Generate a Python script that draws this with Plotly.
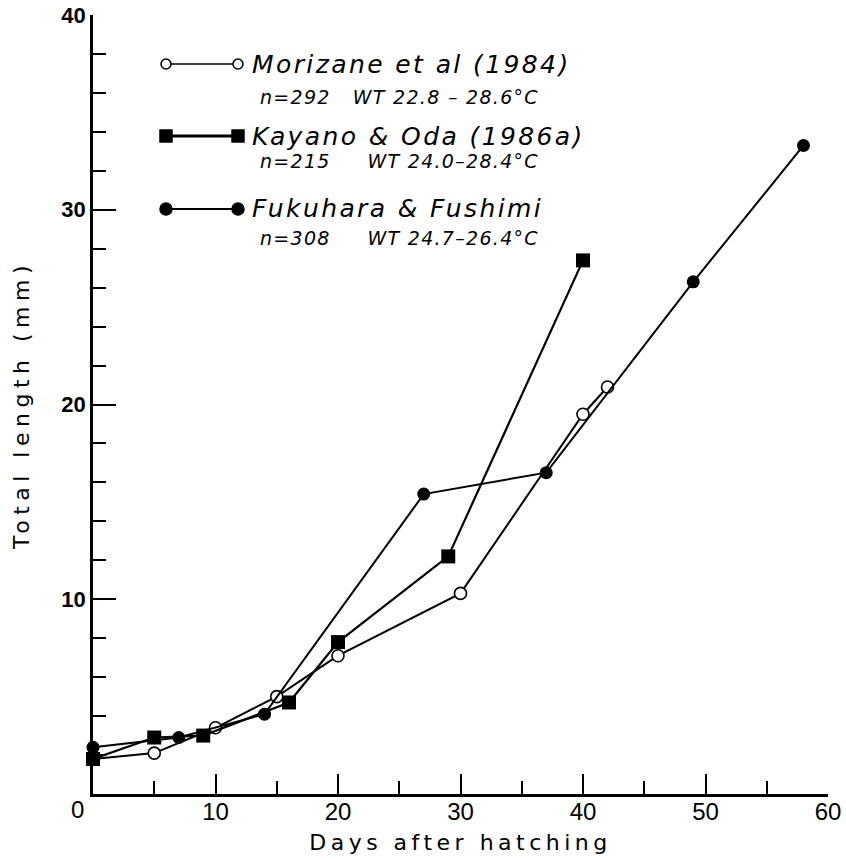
import plotly.graph_objects as go

# ---- data ----
mor_days = [0, 5, 10, 15, 20, 30, 40, 42]
mor_len = [1.8, 2.1, 3.4, 5.0, 7.1, 10.3, 19.5, 20.9]

kay_days = [0, 5, 9, 16, 20, 29, 40]
kay_len = [1.8, 2.9, 3.0, 4.7, 7.8, 12.2, 27.4]

fuk_days = [0, 7, 14, 27, 37, 49, 58]
fuk_len = [2.4, 2.9, 4.1, 15.4, 16.5, 26.3, 33.3]

x_ticks = [0, 10, 20, 30, 40, 50, 60]
x_ticktext = ["", "10", "20", "30", "40", "50", "60"]
y_ticks = [10, 20, 30, 40]

legend_titles = ["Morizane et al (1984)", "Kayano & Oda (1986a)", "Fukuhara & Fushimi"]
legend_subs = ["n=292   WT 22.8 – 28.6°C", "n=215     WT 24.0–28.4°C", "n=308     WT 24.7–26.4°C"]

W, H = 846, 860
L, R, T, B = 93, 18, 15, 66
PW, PH = W - L - R, H - T - B


def px(xp):
    return (xp - L) / PW


def py(yp):
    return (H - B - yp) / PH


def spaced(txt, sp):
    return '<span style="letter-spacing:%spx">%s</span>' % (sp, txt)


fig = go.Figure()

fig.add_trace(go.Scatter(
    x=mor_days, y=mor_len, mode="lines+markers", cliponaxis=False,
    line=dict(color="black", width=2),
    marker=dict(symbol="circle", size=12, color="white", line=dict(color="black", width=1.6)),
    showlegend=False))
fig.add_trace(go.Scatter(
    x=kay_days, y=kay_len, mode="lines+markers", cliponaxis=False,
    line=dict(color="black", width=2.2),
    marker=dict(symbol="square", size=14, color="black"),
    showlegend=False))
fig.add_trace(go.Scatter(
    x=fuk_days, y=fuk_len, mode="lines+markers", cliponaxis=False,
    line=dict(color="black", width=2),
    marker=dict(symbol="circle", size=13, color="black"),
    showlegend=False))

# ---- custom legend ----
shapes = []
annotations = []
rows = [(64, 97), (136, 161), (209, 238)]
styles = [("circle", "white", 1.3), ("square", "black", 3), ("circle", "black", 2)]
for i, ((ym, ys), (sym, fill, lw)) in enumerate(zip(rows, styles)):
    x1, x2 = 166, 238
    shapes.append(dict(type="line", xref="paper", yref="paper",
                       x0=px(x1), x1=px(x2), y0=py(ym), y1=py(ym),
                       line=dict(color="black", width=lw)))
    for xc in (x1, x2):
        r = 5 if sym == "circle" else 6
        if fill == "black" and sym == "circle":
            r = 6
        shapes.append(dict(type="circle" if sym == "circle" else "rect",
                           xref="paper", yref="paper", xsizemode="pixel", ysizemode="pixel",
                           xanchor=px(xc), yanchor=py(ym),
                           x0=-r, x1=r, y0=-r, y1=r,
                           fillcolor=fill, line=dict(color="black", width=1.5)))
    annotations.append(dict(xref="paper", yref="paper", x=px(250), y=py(ym),
                            xanchor="left", yanchor="middle", showarrow=False,
                            text="<i>" + spaced(legend_titles[i], 2.4) + "</i>",
                            font=dict(family="DejaVu Sans", size=25, color="black")))
    annotations.append(dict(xref="paper", yref="paper", x=px(258), y=py(ys),
                            xanchor="left", yanchor="middle", showarrow=False,
                            text="<i>" + spaced(legend_subs[i], 1.3) + "</i>",
                            font=dict(family="DejaVu Sans", size=19, color="black")))

# corner "0" label
annotations.append(dict(xref="paper", yref="paper", x=px(77), y=py(810),
                        xanchor="center", yanchor="middle", showarrow=False,
                        text="0", font=dict(family="Liberation Sans", size=24, color="black")))

fig.update_layout(
    width=W, height=H,
    margin=dict(l=L, r=R, t=T, b=B, autoexpand=False),
    paper_bgcolor="white", plot_bgcolor="white",
    shapes=shapes, annotations=annotations,
    xaxis=dict(range=[0, 60], tickvals=x_ticks, ticktext=x_ticktext, automargin=False,
               ticks="inside", ticklen=20, tickwidth=2, tickcolor="black",
               ticklabelstandoff=-6,
               minor=dict(tickvals=[5, 15, 25, 35, 45, 55], ticks="inside", ticklen=13,
                          tickwidth=2, tickcolor="black"),
               showline=True, linewidth=2.5, linecolor="black",
               showgrid=False, zeroline=False,
               tickfont=dict(family="Liberation Sans", size=24, color="black"),
               title=dict(text=spaced("Days after hatching", 4.5),
                          font=dict(family="DejaVu Sans", size=22, color="black"),
                          standoff=12)),
    yaxis=dict(range=[0, 40], tickvals=y_ticks, automargin=False,
               ticks="inside", ticklen=23, tickwidth=2, tickcolor="black",
               minor=dict(dtick=2, ticks="inside", ticklen=13, tickwidth=2, tickcolor="black"),
               showline=True, linewidth=2.5, linecolor="black",
               showgrid=False, zeroline=False,
               tickfont=dict(family="Liberation Sans", size=22, color="black", weight="bold"),
               title=dict(text=spaced("Total length (mm)", 5.5),
                          font=dict(family="DejaVu Sans", size=22, color="black"),
                          standoff=26)),
)

fig.write_html("out.html", config={"displayModeBar": False},
               post_script="document.body.style.margin='0px';")
